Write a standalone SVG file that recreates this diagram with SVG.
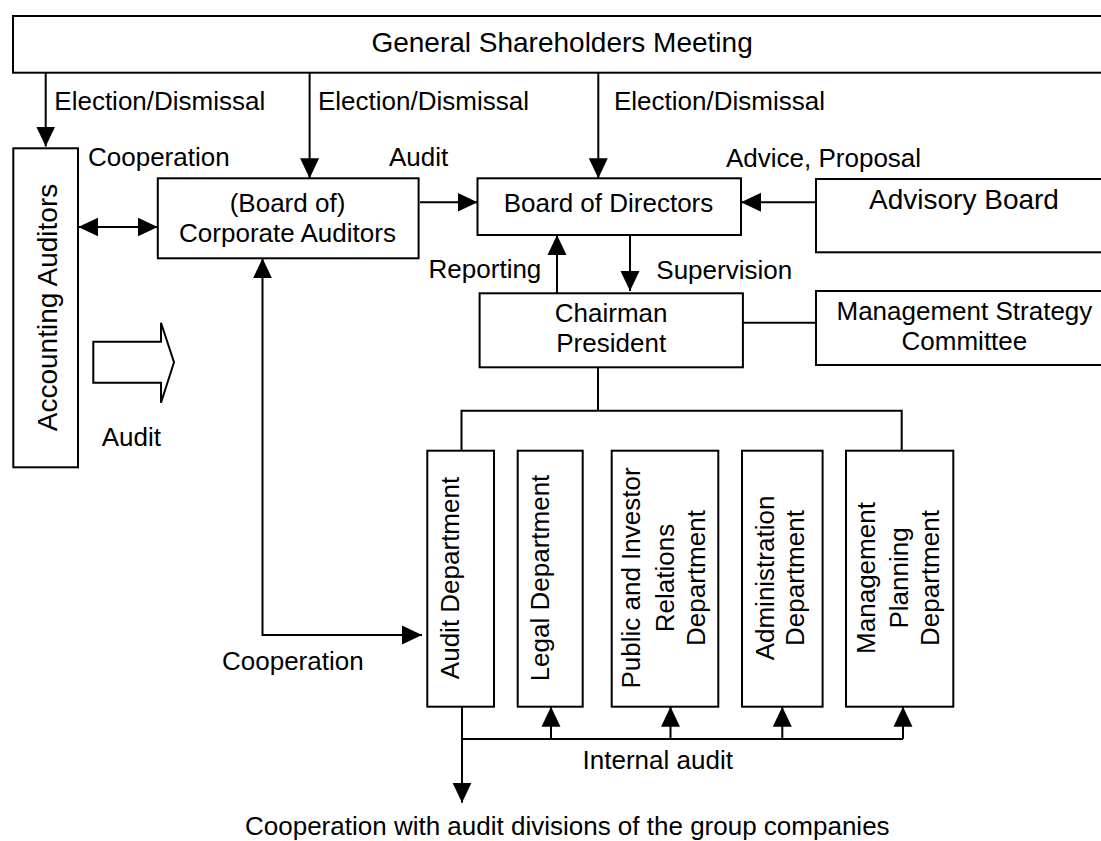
<svg xmlns="http://www.w3.org/2000/svg" width="1101" height="841" viewBox="0 0 1101 841">
<style>
.box{fill:#fff;stroke:#000;stroke-width:2}
.ln{fill:none;stroke:#000;stroke-width:2}
text{font-family:"Liberation Sans",Arial,sans-serif;font-size:26px;fill:#000}
.big{font-size:28px}
.mid{text-anchor:middle}
</style>
<defs>
<marker id="ah" markerUnits="userSpaceOnUse" markerWidth="20" markerHeight="20" viewBox="0 0 20 20" refX="20" refY="10" orient="auto-start-reverse">
<path d="M0,0.5 L20,10 L0,19.5 z" fill="#000"/>
</marker>
</defs>
<rect width="1101" height="841" fill="#fff"/>

<g id="connectors">
<path class="ln" d="M45.7,72.7 V146.5" marker-end="url(#ah)"/>
<path class="ln" d="M309.6,72.7 V178.3" marker-end="url(#ah)"/>
<path class="ln" d="M598.3,72.7 V178.3" marker-end="url(#ah)"/>
<path class="ln" d="M78.3,227 H157.7" marker-start="url(#ah)" marker-end="url(#ah)"/>
<path class="ln" d="M420,202.3 H477.5" marker-end="url(#ah)"/>
<path class="ln" d="M816,202.3 H741" marker-end="url(#ah)"/>
<path class="ln" d="M557,293.3 V235" marker-end="url(#ah)"/>
<path class="ln" d="M630,235 V291" marker-end="url(#ah)"/>
<path class="ln" d="M742.9,322.7 H816"/>
<path class="ln" d="M598,367.3 V410.7 M461.5,450.7 V410.7 H901.7 V450.7"/>
<path class="ln" d="M422,635 H262.5 V258.3" marker-start="url(#ah)" marker-end="url(#ah)"/>
<path class="ln" d="M462,706.7 V802.7" marker-end="url(#ah)"/>
<path class="ln" d="M462,739 H903"/>
<path class="ln" d="M551,739 V706.7" marker-end="url(#ah)"/>
<path class="ln" d="M670.5,739 V706.7" marker-end="url(#ah)"/>
<path class="ln" d="M782.3,739 V706.7" marker-end="url(#ah)"/>
<path class="ln" d="M903,739 V706.7" marker-end="url(#ah)"/>
<polygon class="box" points="93.3,341.7 161,341.7 161,322.7 174,362.3 161,402.7 161,382.7 93.3,382.7"/>
</g>

<g id="labels">
<text x="54.3" y="110">Election/Dismissal</text>
<text x="318" y="110">Election/Dismissal</text>
<text x="614" y="110">Election/Dismissal</text>
<text x="88" y="166">Cooperation</text>
<text x="389" y="166">Audit</text>
<text x="726" y="166.7">Advice, Proposal</text>
<text x="428.6" y="278">Reporting</text>
<text x="656.3" y="279">Supervision</text>
<text x="101.7" y="445.7">Audit</text>
<text x="222" y="670">Cooperation</text>
<text x="582.6" y="769">Internal audit</text>
<text x="245" y="834.5">Cooperation with audit divisions of the group companies</text>
</g>

<g id="shareholders">
<rect class="box" x="13" y="16" width="1098" height="56.7"/>
<text class="big" x="371.4" y="52">General Shareholders Meeting</text>
</g>

<g id="accounting-auditors">
<rect class="box" x="13.3" y="148.3" width="64.7" height="319"/>
<text class="big mid" transform="translate(56.8,307.5) rotate(-90)">Accounting Auditors</text>
</g>

<g id="corporate-auditors">
<rect class="box" x="157.8" y="178.3" width="260.8" height="80"/>
<text class="mid" x="287.5" y="212">(Board of)</text>
<text class="mid" x="287.5" y="242">Corporate Auditors</text>
</g>

<g id="board-of-directors">
<rect class="box" x="477.5" y="178.3" width="263.5" height="56.7"/>
<text class="mid" x="608.5" y="212">Board of Directors</text>
</g>

<g id="advisory-board">
<rect class="box" x="816" y="179" width="295" height="73.3"/>
<text class="big mid" x="964" y="209">Advisory Board</text>
</g>

<g id="chairman-president">
<rect class="box" x="479.6" y="293.3" width="263.3" height="74"/>
<text class="mid" x="611.2" y="321.7">Chairman</text>
<text class="mid" x="611.2" y="351.7">President</text>
</g>

<g id="management-strategy-committee">
<rect class="box" x="816" y="291" width="295" height="74"/>
<text class="mid" x="964.4" y="320">Management Strategy</text>
<text class="mid" x="964.4" y="350">Committee</text>
</g>

<g id="audit-department">
<rect class="box" x="427.3" y="450.7" width="66.7" height="256"/>
<text class="mid" transform="translate(458.6,578) rotate(-90)">Audit Department</text>
</g>

<g id="legal-department">
<rect class="box" x="517.7" y="450.7" width="65" height="256"/>
<text class="mid" transform="translate(548.6,578) rotate(-90)">Legal Department</text>
</g>

<g id="pr-ir-department">
<rect class="box" x="611.7" y="450.7" width="106.6" height="256"/>
<text class="mid" transform="translate(640.3,578) rotate(-90)">Public and Investor</text>
<text class="mid" transform="translate(673.6,578) rotate(-90)">Relations</text>
<text class="mid" transform="translate(705.3,578) rotate(-90)">Department</text>
</g>

<g id="administration-department">
<rect class="box" x="742" y="450.7" width="80.6" height="256"/>
<text class="mid" transform="translate(773.6,578) rotate(-90)">Administration</text>
<text class="mid" transform="translate(803.6,578) rotate(-90)">Department</text>
</g>

<g id="management-planning-department">
<rect class="box" x="846" y="450.7" width="107.3" height="256"/>
<text class="mid" transform="translate(875.3,578) rotate(-90)">Management</text>
<text class="mid" transform="translate(907.6,578) rotate(-90)">Planning</text>
<text class="mid" transform="translate(938.6,578) rotate(-90)">Department</text>
</g>
</svg>
